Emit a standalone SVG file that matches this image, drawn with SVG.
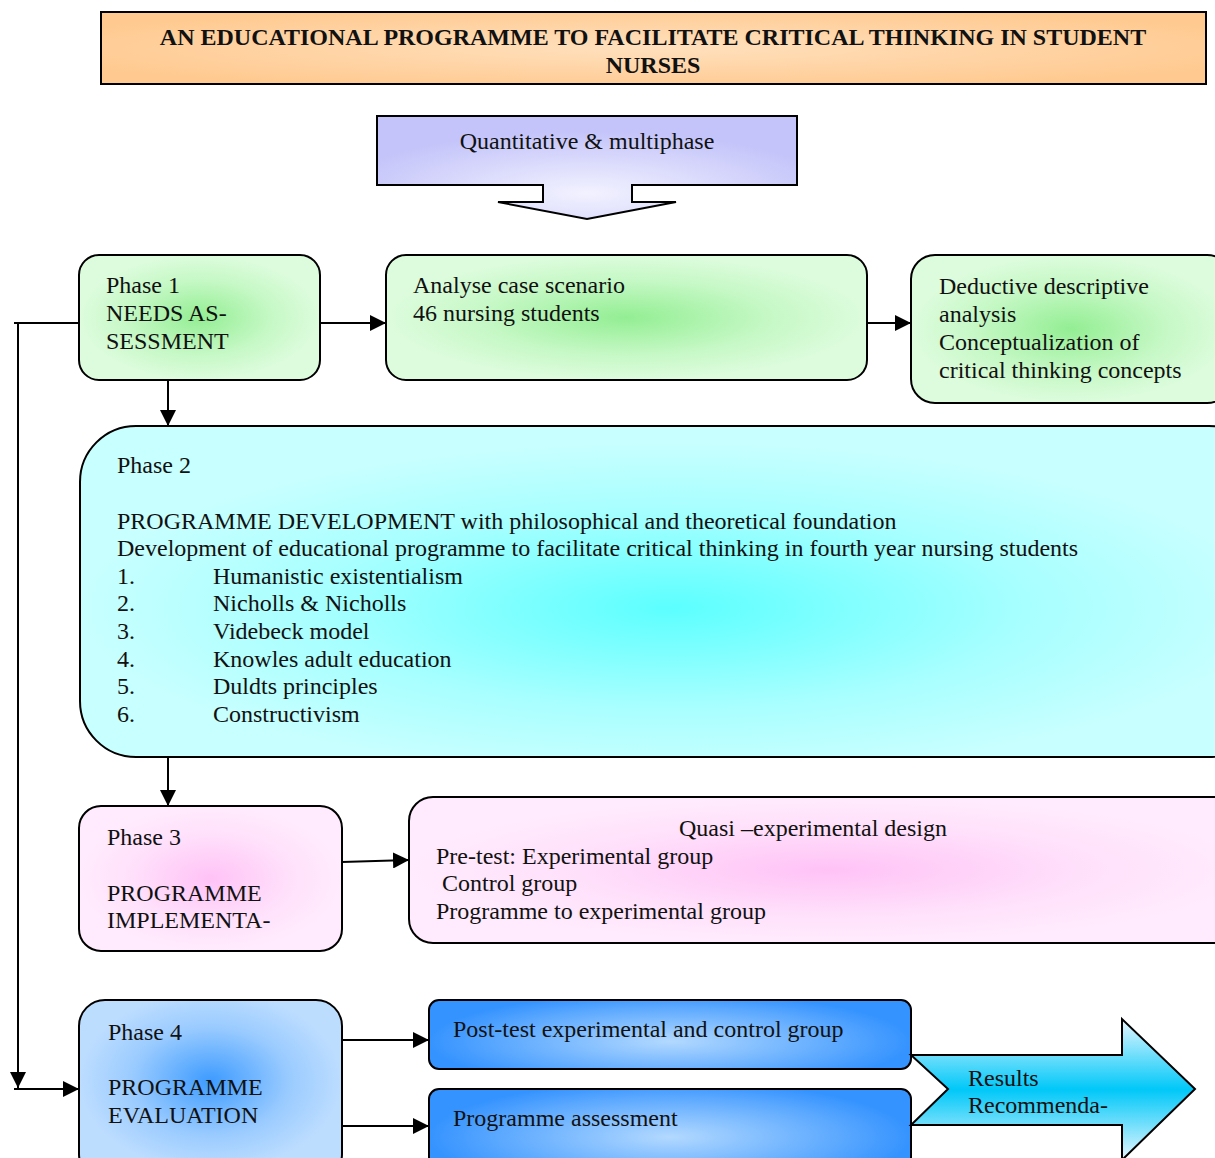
<svg xmlns="http://www.w3.org/2000/svg" width="1215" height="1158" viewBox="0 0 1215 1158">
<style>
text{font-family:"Liberation Serif","Times New Roman",serif;font-size:24px;fill:#111}
.b{stroke:#000;stroke-width:2}
.c{stroke:#000;stroke-width:2;fill:none}
.t{font-weight:bold;font-size:24px}
</style>
<defs>
<marker id="ah" viewBox="0 0 10 10" refX="10" refY="5" markerWidth="16" markerHeight="16" markerUnits="userSpaceOnUse" orient="auto"><path d="M0,0 L10,5 L0,10 Z" fill="#000"/></marker>
<radialGradient id="gOr" cx="0.5" cy="0.5" r="0.6"><stop offset="0" stop-color="#FFE0BD"/><stop offset="1" stop-color="#FFC98F"/></radialGradient>
<radialGradient id="gLav" cx="0.5" cy="0.75" r="0.6"><stop offset="0" stop-color="#F2F2FF"/><stop offset="1" stop-color="#C4C4FA"/></radialGradient>
<radialGradient id="gGr" cx="0.5" cy="0.5" r="0.5"><stop offset="0" stop-color="#93EE93"/><stop offset="0.6" stop-color="#C6F8C6"/><stop offset="1" stop-color="#DDFCDD"/></radialGradient>
<radialGradient id="gCy" cx="0.5" cy="0.55" r="0.5"><stop offset="0" stop-color="#5CFFFF"/><stop offset="0.6" stop-color="#A8FFFF"/><stop offset="1" stop-color="#C8FFFF"/></radialGradient>
<radialGradient id="gPk" cx="0.5" cy="0.5" r="0.5"><stop offset="0" stop-color="#FFC2F6"/><stop offset="0.6" stop-color="#FFE0FB"/><stop offset="1" stop-color="#FFEBFD"/></radialGradient>
<radialGradient id="gBl" cx="0.5" cy="0.45" r="0.5"><stop offset="0" stop-color="#3D9BFF"/><stop offset="0.6" stop-color="#9ACBFF"/><stop offset="1" stop-color="#BDDDFF"/></radialGradient>
<radialGradient id="gBx" cx="0.5" cy="0.6" r="0.5" gradientTransform="translate(0.5 0.6) scale(1 1.4) translate(-0.5 -0.6)"><stop offset="0" stop-color="#B3D9FF"/><stop offset="0.7" stop-color="#5CA9FF"/><stop offset="1" stop-color="#3593FF"/></radialGradient>
<linearGradient id="gRes" x1="0" y1="0" x2="0" y2="1"><stop offset="0" stop-color="#E6F6FF"/><stop offset="0.5" stop-color="#00C8F8"/><stop offset="1" stop-color="#E6F6FF"/></linearGradient>
</defs>

<g id="title">
<rect x="101" y="12" width="1105" height="72" fill="url(#gOr)" class="b"/>
<text x="653" y="45" text-anchor="middle" class="t">AN EDUCATIONAL PROGRAMME TO FACILITATE CRITICAL THINKING IN STUDENT</text>
<text x="653" y="73" text-anchor="middle" class="t">NURSES</text>
</g>

<g id="method">
<path d="M377,116 H797 V185 H632 V202 H676 L587,219 L498,202 H543 V185 H377 Z" fill="url(#gLav)" class="b"/>
<text x="587" y="149" text-anchor="middle">Quantitative &amp; multiphase</text>
</g>

<g id="phase1">
<rect x="79" y="255" width="241" height="125" rx="20" fill="url(#gGr)" class="b"/>
<text x="106" y="293">Phase 1</text>
<text x="106" y="321">NEEDS AS-</text>
<text x="106" y="349">SESSMENT</text>
</g>

<g id="analyse">
<rect x="386" y="255" width="481" height="125" rx="20" fill="url(#gGr)" class="b"/>
<text x="413" y="293">Analyse case scenario</text>
<text x="413" y="321">46 nursing students</text>
</g>

<g id="deductive">
<rect x="911" y="255" width="320" height="148" rx="24" fill="url(#gGr)" class="b"/>
<text x="939" y="294">Deductive descriptive</text>
<text x="939" y="322">analysis</text>
<text x="939" y="350">Conceptualization of</text>
<text x="939" y="378">critical thinking concepts</text>
</g>

<g id="phase2">
<rect x="80" y="426" width="1185" height="331" rx="56" fill="url(#gCy)" class="b"/>
<text x="117" y="473">Phase 2</text>
<text x="117" y="529">PROGRAMME DEVELOPMENT with philosophical and theoretical foundation</text>
<text x="117" y="556">Development of educational programme to facilitate critical thinking in fourth year nursing students</text>
<text x="117" y="584">1.</text><text x="213" y="584">Humanistic existentialism</text>
<text x="117" y="611">2.</text><text x="213" y="611">Nicholls &amp; Nicholls</text>
<text x="117" y="639">3.</text><text x="213" y="639">Videbeck model</text>
<text x="117" y="667">4.</text><text x="213" y="667">Knowles adult education</text>
<text x="117" y="694">5.</text><text x="213" y="694">Duldts principles</text>
<text x="117" y="722">6.</text><text x="213" y="722">Constructivism</text>
</g>

<g id="phase3">
<rect x="79" y="806" width="263" height="145" rx="22" fill="url(#gPk)" class="b"/>
<text x="107" y="845">Phase 3</text>
<text x="107" y="901">PROGRAMME</text>
<text x="107" y="928">IMPLEMENTA-</text>
</g>

<g id="quasi">
<rect x="409" y="797" width="840" height="146" rx="24" fill="url(#gPk)" class="b"/>
<text x="813" y="836" text-anchor="middle">Quasi –experimental design</text>
<text x="436" y="864">Pre-test: Experimental group</text>
<text x="442" y="891">Control group</text>
<text x="436" y="919">Programme to experimental group</text>
</g>

<g id="phase4">
<rect x="79" y="1000" width="263" height="180" rx="26" fill="url(#gBl)" class="b"/>
<text x="108" y="1040">Phase 4</text>
<text x="108" y="1095">PROGRAMME</text>
<text x="108" y="1123">EVALUATION</text>
</g>

<g id="posttest">
<rect x="429" y="1000" width="482" height="69" rx="10" fill="url(#gBx)" class="b"/>
<text x="453" y="1037">Post-test experimental and control group</text>
</g>

<g id="assessment">
<rect x="429" y="1089" width="482" height="80" rx="10" fill="url(#gBx)" class="b"/>
<text x="453" y="1126">Programme assessment</text>
</g>

<g id="results">
<path d="M911,1055 H1122 V1019 L1195,1089 L1122,1160 V1125 H911 L948,1089 Z" fill="url(#gRes)" class="b"/>
<text x="968" y="1086">Results</text>
<text x="968" y="1113">Recommenda-</text>
</g>

<g id="connectors">
<line x1="320" y1="323" x2="386" y2="323" class="c" marker-end="url(#ah)"/>
<line x1="867" y1="323" x2="911" y2="323" class="c" marker-end="url(#ah)"/>
<line x1="168" y1="380" x2="168" y2="426" class="c" marker-end="url(#ah)"/>
<line x1="168" y1="757" x2="168" y2="806" class="c" marker-end="url(#ah)"/>
<line x1="342" y1="862" x2="409" y2="860" class="c" marker-end="url(#ah)"/>
<line x1="342" y1="1040" x2="429" y2="1040" class="c" marker-end="url(#ah)"/>
<line x1="342" y1="1126" x2="429" y2="1126" class="c" marker-end="url(#ah)"/>
<line x1="14" y1="323" x2="79" y2="323" class="c"/>
<line x1="18" y1="323" x2="18" y2="1088" class="c" marker-end="url(#ah)"/>
<line x1="14" y1="1089" x2="79" y2="1089" class="c" marker-end="url(#ah)"/>
</g>
</svg>
